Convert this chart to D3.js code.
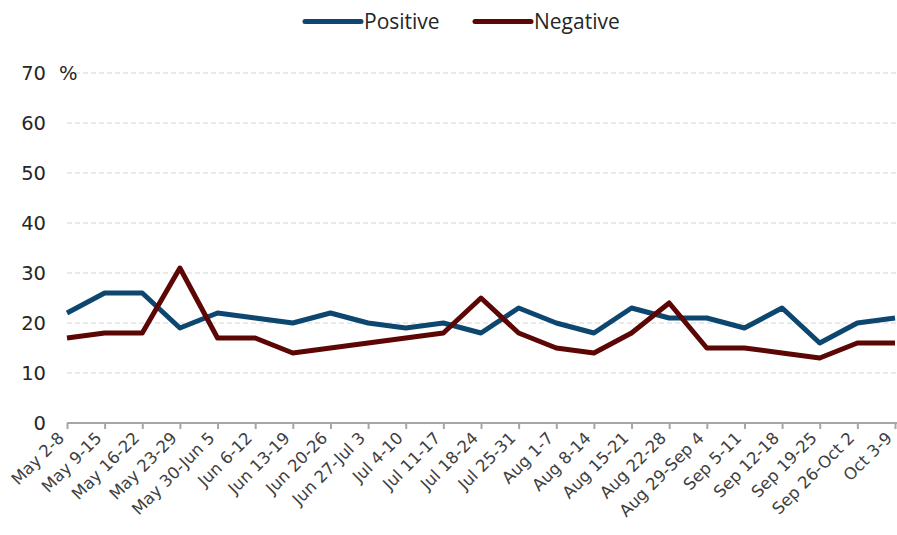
<!DOCTYPE html>
<html>
<head>
<meta charset="utf-8">
<script src="https://cdn.jsdelivr.net/npm/d3@7"></script>
<style>
  html, body { margin: 0; padding: 0; background: #fff; }
  svg { display: block; }
</style>
</head>
<body>
<svg id="chart" width="897" height="535"></svg>
<script>
// Weekly share of positive vs negative mentions (%)
const categories = [
  "May 2-8", "May 9-15", "May 16-22", "May 23-29", "May 30-Jun 5",
  "Jun 6-12", "Jun 13-19", "Jun 20-26", "Jun 27-Jul 3", "Jul 4-10",
  "Jul 11-17", "Jul 18-24", "Jul 25-31", "Aug 1-7", "Aug 8-14",
  "Aug 15-21", "Aug 22-28", "Aug 29-Sep 4", "Sep 5-11", "Sep 12-18",
  "Sep 19-25", "Sep 26-Oct 2", "Oct 3-9"
];
const positive = [22, 26, 26, 19, 22, 21, 20, 22, 20, 19, 20, 18, 23, 20, 18, 23, 21, 21, 19, 23, 16, 20, 21];
const negative = [17, 18, 18, 31, 17, 17, 14, 15, 16, 17, 18, 25, 18, 15, 14, 18, 24, 15, 15, 14, 13, 16, 16];
const yTicks = [0, 10, 20, 30, 40, 50, 60, 70];

const series = [
  { name: "Positive", values: positive, color: "#0d4770" },
  { name: "Negative", values: negative, color: "#5c0606" }
];

const svg = d3.select("#chart");
const W = 897;

const x = d3.scalePoint().domain(categories).range([67, 895]);
const y = d3.scaleLinear().domain([0, 70]).range([423, 73]);

// Horizontal dashed gridlines
svg.append("g")
  .selectAll("line")
  .data(yTicks.filter(d => d > 0))
  .join("line")
  .attr("x1", 67).attr("x2", W)
  .attr("y1", d => y(d)).attr("y2", d => y(d))
  .attr("stroke", "#d4d4d4")
  .attr("stroke-width", 1)
  .attr("stroke-dasharray", "5,3");

// Y axis labels (no axis line)
const yAxis = d3.axisLeft(y).tickValues(yTicks).tickSize(0).tickPadding(0);
const gy = svg.append("g").attr("transform", "translate(46,0)").call(yAxis);
gy.select(".domain").remove();
gy.selectAll("text")
  .attr("font-family", "'DejaVu Sans', Verdana, sans-serif")
  .attr("font-size", 19.5)
  .attr("fill", "#262626");

svg.append("text")
  .attr("x", 59).attr("y", y(70))
  .attr("dy", "0.35em")
  .attr("font-family", "'DejaVu Sans', Verdana, sans-serif")
  .attr("font-size", 19.5)
  .attr("fill", "#262626")
  .text("%");

// X axis with ticks at each category
const xAxis = d3.axisBottom(x).tickSize(6).tickSizeOuter(0).tickFormat("");
const gx = svg.append("g").attr("transform", `translate(0,${y(0)})`).call(xAxis);
gx.select(".domain").attr("stroke", "#a6a6a6").attr("stroke-width", 2)
  .attr("d", `M67,0H${W}`);
gx.selectAll(".tick line").attr("stroke", "#a6a6a6").attr("stroke-width", 2);

// Rotated category labels
svg.append("g")
  .selectAll("text")
  .data(categories)
  .join("text")
  .attr("transform", d => `translate(${x(d) - 6},${y(0) + 12}) rotate(-45)`)
  .attr("text-anchor", "end")
  .attr("dy", "0.35em")
  .attr("font-family", "'DejaVu Sans', Verdana, sans-serif")
  .attr("font-size", 16.5)
  .attr("fill", "#404040")
  .text(d => d);

// Series lines
const line = d3.line()
  .x((d, i) => x(categories[i]))
  .y(d => y(d));

svg.append("g")
  .selectAll("path")
  .data(series)
  .join("path")
  .attr("d", d => line(d.values))
  .attr("fill", "none")
  .attr("stroke", d => d.color)
  .attr("stroke-width", 5)
  .attr("stroke-linejoin", "round")
  .attr("stroke-linecap", "butt");

// Legend
const legendPos = [305, 475];
const lg = svg.append("g")
  .selectAll("g")
  .data(series)
  .join("g")
  .attr("transform", (d, i) => `translate(${legendPos[i]},21.5)`);
lg.append("line")
  .attr("x1", 0).attr("x2", 56)
  .attr("stroke", d => d.color)
  .attr("stroke-width", 5)
  .attr("stroke-linecap", "round");
lg.append("text")
  .attr("x", 59)
  .attr("y", 0)
  .attr("dy", "0.35em")
  .attr("font-family", "'Open Sans', 'Noto Sans', sans-serif")
  .attr("font-size", 21)
  .attr("fill", "#262626")
  .text(d => d.name);
</script>
</body>
</html>
